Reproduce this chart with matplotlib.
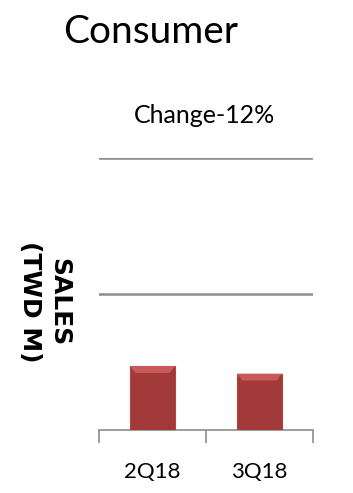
import matplotlib.pyplot as plt
from matplotlib.patches import Polygon
import numpy as np

quarters = ['2Q18', '3Q18']
sales = [47.0, 41.4]
grid_values = [100, 200]

plt.rcParams['font.family'] = ['Lato', 'DejaVu Sans']

fig = plt.figure(figsize=(3.53, 4.93), dpi=100)
ax = fig.add_axes([0.2805, 0.1278, 0.6062, 0.5517])

x = np.arange(len(quarters))
bars = ax.bar(x, sales, width=0.42, color='#A23A3A', edgecolor='#B04545', linewidth=0.8, zorder=3)

# lighter bevel on the top of each bar
for b in bars:
    bx, bw, bh = b.get_x(), b.get_width(), b.get_height()
    d = 5.0
    ax.add_patch(Polygon([(bx, bh), (bx + bw, bh), (bx + bw * 0.88, bh - d), (bx + bw * 0.12, bh - d)],
                         closed=True, facecolor='#C85A5A', edgecolor='none', zorder=4))

ax.set_xlim(-0.5, 1.5)
ax.set_ylim(0, 200)
for g in grid_values:
    ax.axhline(g, color='#8C8C8C', linewidth=1.8, zorder=1)

for s in ['top', 'right', 'left']:
    ax.spines[s].set_visible(False)
ax.spines['bottom'].set_color('#8C8C8C')
ax.spines['bottom'].set_linewidth(1.2)

ax.set_yticks([])
ax.set_xticks([-0.5, 0.5, 1.5])
ax.set_xticklabels([])
ax.set_xticks(x, minor=True)
ax.set_xticklabels(quarters, minor=True, fontsize=16)
ax.tick_params(axis='x', which='major', direction='out', length=9, width=1.2, color='#8C8C8C')
ax.tick_params(axis='x', which='minor', length=0, pad=23)

fig.text(0.18, 0.935, 'Consumer', fontsize=28, ha='left', va='center')
fig.text(0.58, 0.766, 'Change-12%', fontsize=18, ha='center', va='center')
fig.text(0.127, 0.387, 'SALES\n(TWD M)', fontsize=18, fontweight='bold', rotation=270,
         ha='center', va='center', family=['DejaVu Sans'], linespacing=1.25)

fig.savefig('out.png', dpi=100)
